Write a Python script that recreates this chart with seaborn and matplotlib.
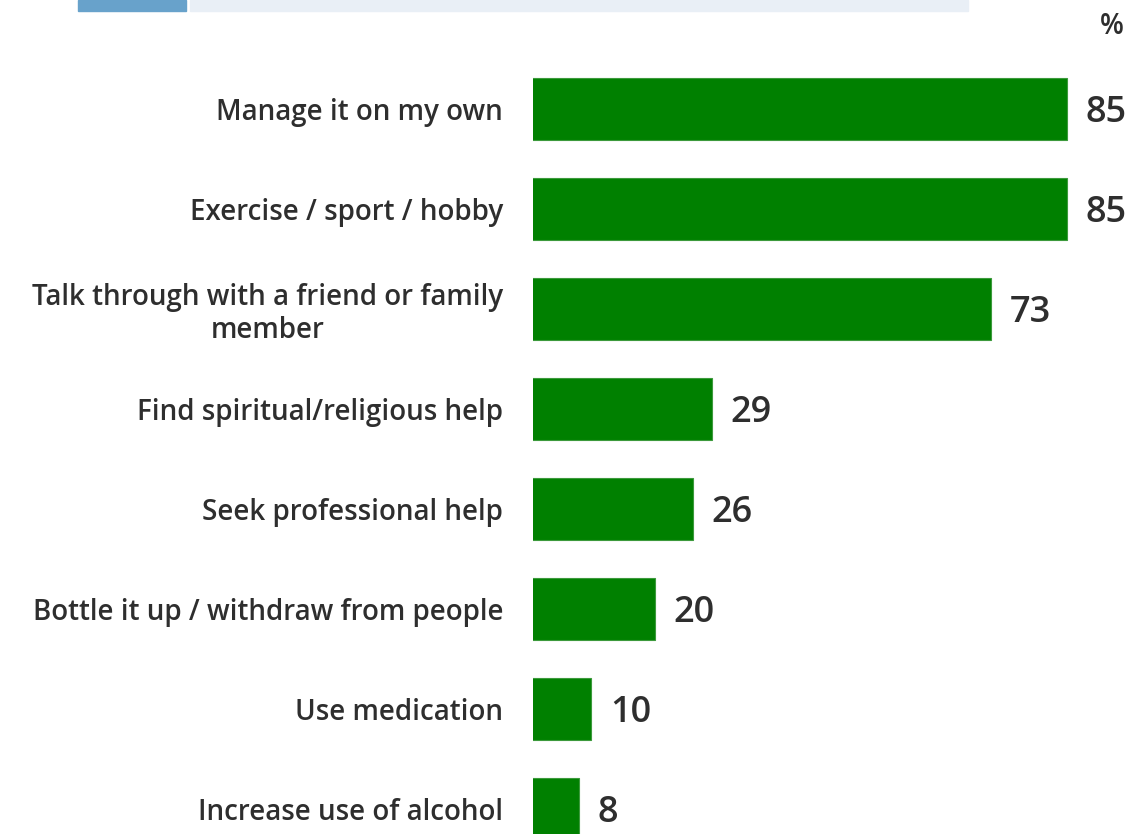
import matplotlib
matplotlib.use("Agg")
import matplotlib.pyplot as plt
import matplotlib.patches as mpatches
import seaborn as sns
import pandas as pd

categories = [
    "Manage it on my own",
    "Exercise / sport / hobby",
    "Talk through with a friend or family\nmember",
    "Find spiritual/religious help",
    "Seek professional help",
    "Bottle it up / withdraw from people",
    "Use medication",
    "Increase use of alcohol",
]
values = [85, 85, 73, 29, 26, 20, 10, 8]
unit_label = "%"

bar_color = "#008000"
text_color = "#2e2e2e"

df = pd.DataFrame({"category": categories, "value": values})

sns.set_theme(style="white")
plt.rcParams["font.family"] = ["Open Sans", "DejaVu Sans"]

W, H = 1128, 834
fig = plt.figure(figsize=(W / 100, H / 100), dpi=100)
fig.patch.set_facecolor("white")

# axes placed in pixel terms: visible bars start at x=533, rows every 100 px
ax_left = 533
ax = fig.add_axes([ax_left / W, 0, (W - ax_left) / W, 775 / H])
sns.barplot(data=df, x="value", y="category", orient="h", color=bar_color,
            width=0.62, edgecolor="#3c9a3c", linewidth=0.8, saturation=1, ax=ax)

# value zero sits slightly left of the axes edge, so bar bases are clipped
px_per_unit = 6.338
x0 = 5 / px_per_unit
ax.set_xlim(x0, x0 + (W - ax_left) / px_per_unit)
ax.set_ylim(7.25, -0.5)
ax.set_xlabel("")
ax.set_ylabel("")
ax.set_xticks([])
for s in ax.spines.values():
    s.set_visible(False)

ax.tick_params(axis="y", length=0, pad=21.5, labelsize=20, labelcolor=text_color)
for lbl in ax.get_yticklabels():
    lbl.set_fontweight("semibold")
    lbl.set_multialignment("center")
    lbl.set_linespacing(1.15)

for i, v in enumerate(values):
    ax.annotate(str(v), xy=(v, i), xytext=(19, -4), textcoords="offset pixels",
                ha="left", va="center", fontsize=26, fontweight="semibold",
                color=text_color)

# header strip along the top edge
fig.patches.append(mpatches.Rectangle((78 / W, 1 - 11 / H), 108 / W, 11 / H,
                                      transform=fig.transFigure, color="#68a2cb", zorder=0))
fig.patches.append(mpatches.Rectangle((190 / W, 1 - 11 / H), 778 / W, 11 / H,
                                      transform=fig.transFigure, color="#e9eff6", zorder=0))

fig.text(1112 / W, 1 - 27 / H, unit_label, ha="center", va="center", fontsize=20,
         fontweight="semibold", color=text_color)

fig.savefig("out.png", dpi=100)
